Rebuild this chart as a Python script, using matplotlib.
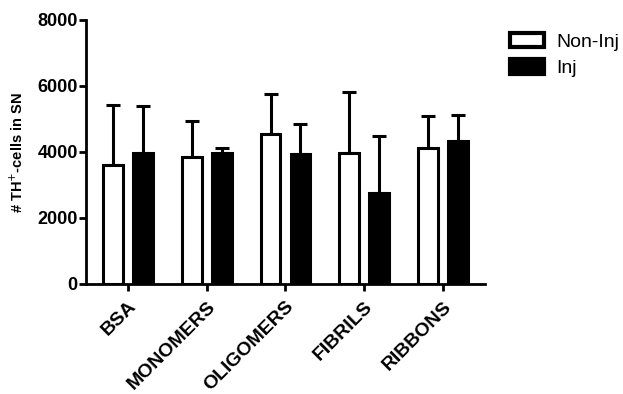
import matplotlib
matplotlib.use("Agg")
import matplotlib.pyplot as plt
import matplotlib.transforms as mtransforms
from matplotlib.patches import Patch
import numpy as np

plt.rcParams['font.family'] = ['Liberation Sans', 'DejaVu Sans']

categories = ["BSA", "MONOMERS", "OLIGOMERS", "FIBRILS", "RIBBONS"]
non_inj = [3600, 3840, 4560, 3980, 4110]
non_inj_err = [1820, 1100, 1190, 1830, 980]
inj = [3960, 3980, 3930, 2770, 4340]
inj_err = [1440, 140, 930, 1730, 790]

W, H = 623, 394
fig = plt.figure(figsize=(W / 100, H / 100), dpi=100)
ax = fig.add_axes([86 / W, 1 - 284 / H, 399 / W, 264 / H])

x = np.arange(len(categories))
off = 0.19
w = 0.25
lw = 2.2

ax.bar(x - off, non_inj, w, color="white", edgecolor="black", linewidth=lw, zorder=3)
ax.bar(x + off, inj, w, color="black", edgecolor="black", linewidth=lw, zorder=3)
ax.errorbar(x - off, non_inj, yerr=[np.zeros(len(x)), non_inj_err], fmt="none",
            ecolor="black", elinewidth=lw, capsize=5, capthick=lw, zorder=2)
ax.errorbar(x + off, inj, yerr=[np.zeros(len(x)), inj_err], fmt="none",
            ecolor="black", elinewidth=lw, capsize=5, capthick=lw, zorder=2)

ax.set_xlim(-0.533, len(x) - 1 + 0.533)
ax.set_ylim(0, 8000)
ax.set_yticks([0, 2000, 4000, 6000, 8000])
ax.set_xticks(x)
ax.set_xticklabels(categories, rotation=45, ha="right", rotation_mode="anchor",
                   fontsize=14, fontweight="bold")
shift = mtransforms.ScaledTranslation(-5 / 100, -4 / 100, fig.dpi_scale_trans)
for lab in ax.get_xticklabels():
    lab.set_transform(lab.get_transform() + shift)
for lab in ax.get_yticklabels():
    lab.set_fontweight("bold")
    lab.set_fontsize(13)
fig.text(17 / W, 1 - 153 / H, "# TH$^{+}$-cells in SN", rotation=90,
         ha="center", va="center", fontsize=10.5, fontweight="bold")

for s in ["top", "right"]:
    ax.spines[s].set_visible(False)
for s in ["left", "bottom"]:
    ax.spines[s].set_linewidth(2)
ax.tick_params(axis="both", width=2, length=5, direction="out")
ax.tick_params(axis="x", pad=5)
ax.tick_params(axis="y", pad=1)

handles = [Patch(facecolor="white", edgecolor="black", linewidth=3, label="Non-Inj"),
           Patch(facecolor="black", edgecolor="black", linewidth=3, label="Inj")]
fig.legend(handles=handles, loc="upper left", bbox_to_anchor=(496 / W, 1 - 19 / H),
           frameon=False, fontsize=14, handlelength=1.75, handleheight=0.75,
           handletextpad=0.65, labelspacing=0.45, borderpad=0.2)

fig.savefig("out.png", dpi=100)
